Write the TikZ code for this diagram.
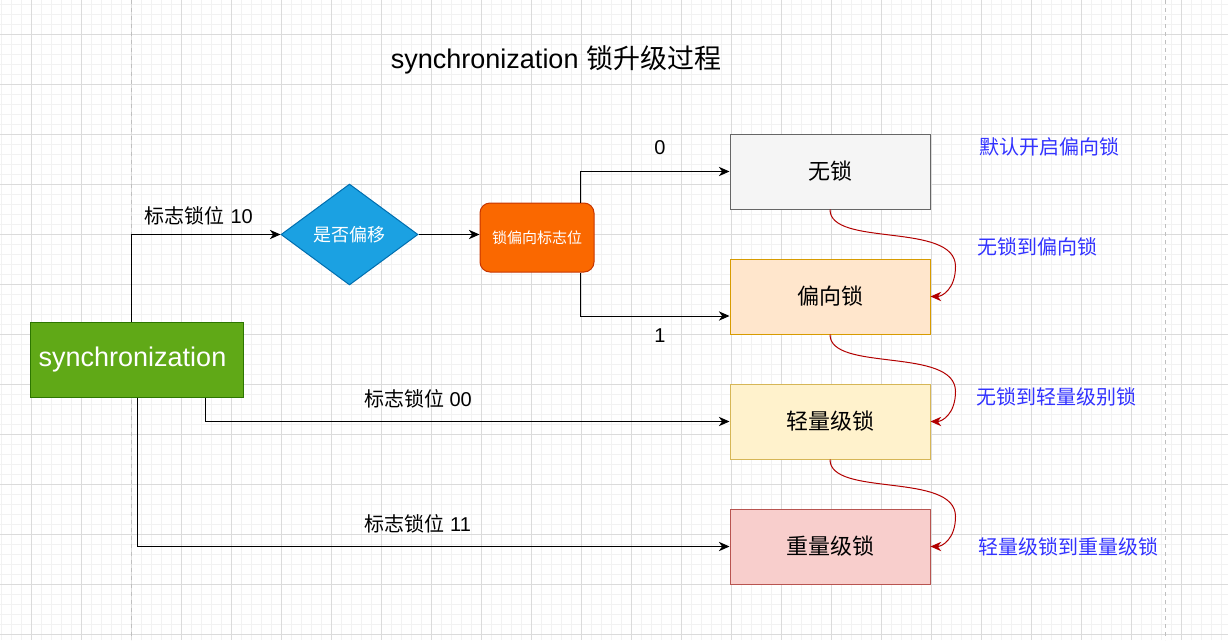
\documentclass[tikz,border=0pt]{standalone}
\usepackage{fontspec}
\setmainfont{Liberation Sans}
\newfontfamily\cjk{Noto Sans CJK SC}
\usetikzlibrary{shapes.geometric,arrows.meta,calc}
\definecolor{syncgreen}{HTML}{60A917}
\definecolor{syncline}{HTML}{2D7600}
\definecolor{diafill}{HTML}{1BA1E2}
\definecolor{dialine}{HTML}{006EAF}
\definecolor{orafill}{HTML}{FA6800}
\definecolor{oraline}{HTML}{C73500}
\definecolor{curvered}{HTML}{B20000}
\definecolor{noteblue}{HTML}{3333FF}

\begin{document}
\begin{tikzpicture}[x=0.75pt, y=-0.75pt,
  minor/.style={draw=black!5, line width=0.75pt},
  major/.style={draw=black!14, line width=0.75pt},
  pageline/.style={draw=black!25, line width=0.75pt, dash pattern=on 3pt off 3pt},
  lockbox/.style={draw, line width=0.75pt, minimum width=150pt, minimum height=56.25pt,
    inner sep=0pt, font=\fontsize{16.5pt}{20pt}\selectfont\cjk},
  flow/.style={line width=0.75pt, -{Stealth[length=8pt,width=7pt,inset=2.5pt]}},
  upgrade/.style={curvered, line width=0.75pt, -{Stealth[length=8pt,width=7pt,inset=2.5pt]}},
  edgelabel/.style={font=\fontsize{15pt}{18pt}\selectfont},
  note/.style={noteblue, font=\fontsize{15pt}{18pt}\selectfont\cjk}]
\useasboundingbox (0,0) rectangle (1228,640);
% grid
\foreach \x in {1,11,...,1228} \draw[minor] (\x,0) -- (\x,640);
\foreach \y in {4,14,...,640} \draw[minor] (0,\y) -- (1228,\y);
\foreach \x in {31,81,...,1228} \draw[major] (\x,0) -- (\x,640);
\foreach \y in {34,84,...,640} \draw[major] (0,\y) -- (1228,\y);
\draw[pageline] (131,0) -- (131,640);
\draw[pageline] (1165,0) -- (1165,640);

\node (title) at (556,60) {\fontsize{20.25pt}{24pt}\selectfont synchronization {\cjk 锁升级过程}};

\node[draw=syncline, fill=syncgreen, text=white, line width=0.75pt, minimum width=159.75pt,
  minimum height=56.25pt, inner sep=0pt, font=\fontsize{20.25pt}{24pt}\selectfont] (sync) at (136.5,359.5) {synchronization\hspace*{6pt}};
\node[diamond, draw=dialine, fill=diafill, text=white, line width=0.75pt, minimum width=102.75pt,
  minimum height=75.75pt, inner sep=0pt, font=\fontsize{13.5pt}{16pt}\selectfont\cjk] (dia) at (349.5,234.5) {是否偏移};
\node[draw=oraline, fill=orafill, text=white, rounded corners=7.5pt, line width=0.75pt, minimum width=85.5pt,
  minimum height=51.75pt, inner sep=0pt, font=\fontsize{11.25pt}{14pt}\selectfont\cjk] (flag) at (537,237.5) {锁偏向标志位};

\node[lockbox, draw=black!60, fill=black!4] (nolock) at (830,171.5) {无锁};
\node[lockbox, draw={rgb,255:red,215;green,155;blue,0}, fill={rgb,255:red,255;green,230;blue,204}] (bias) at (830,296.5) {偏向锁};
\node[lockbox, draw={rgb,255:red,214;green,182;blue,86}, fill={rgb,255:red,255;green,242;blue,204}] (light) at (830,421.5) {轻量级锁};
\node[lockbox, draw={rgb,255:red,184;green,84;blue,80}, fill={rgb,255:red,248;green,206;blue,204}] (heavy) at (830,546.5) {重量级锁};

% flow edges
\draw[flow] ($(sync.north)+(-5.5,0)$) |- node[edgelabel, pos=0.727, above=3pt] {{\cjk 标志锁位} 10} (dia.west);
\draw[flow] (dia.east) -- (dia.east -| flag.west);
\draw[flow] ($(flag.north)+(43,0)$) |- node[edgelabel, pos=0.767, above=9pt] {0} (nolock.west);
\draw[flow] ($(flag.south)+(43,0)$) |- node[edgelabel, pos=0.767, below=6pt] {1} ($(bias.west)+(0,19.5)$);
\draw[flow] ($(sync.south)+(68.5,0)$) |- node[edgelabel, pos=0.703, above=6pt] {{\cjk 标志锁位} 00} (light.west);
\draw[flow] ($(sync.south)+(0.5,0)$) |- node[edgelabel, pos=0.737, above=6pt] {{\cjk 标志锁位} 11} (heavy.west);

% upgrade curves
\draw[upgrade] (nolock.south) .. controls +(0,38) and +(0,-45) .. ($(bias.east)+(25,-30)$) .. controls +(0,22) and +(12,0) .. (bias.east);
\draw[upgrade] (bias.south) .. controls +(0,38) and +(0,-45) .. ($(light.east)+(25,-30)$) .. controls +(0,22) and +(12,0) .. (light.east);
\draw[upgrade] (light.south) .. controls +(0,38) and +(0,-45) .. ($(heavy.east)+(25,-30)$) .. controls +(0,22) and +(12,0) .. (heavy.east);

\node[note] (n1) at (1049,147) {默认开启偏向锁};
\node[note] (n2) at (1037,247) {无锁到偏向锁};
\node[note] (n3) at (1056,397) {无锁到轻量级别锁};
\node[note] (n4) at (1068,547) {轻量级锁到重量级锁};
\end{tikzpicture}
\end{document}
